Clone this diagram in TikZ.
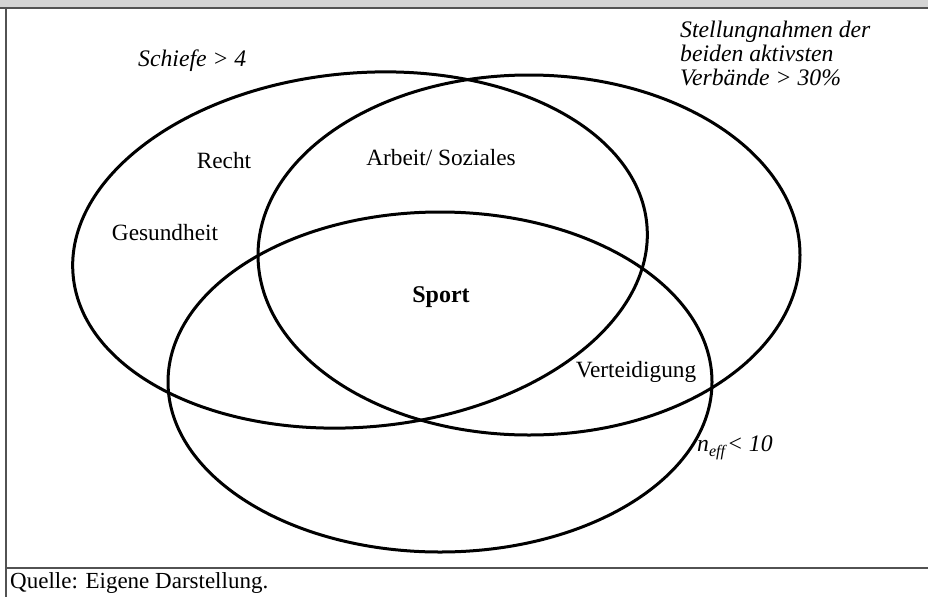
\documentclass[tikz,border=0pt]{standalone}
\usepackage{fontspec}
\setmainfont{Liberation Serif}[ItalicFont={Liberation Serif Italic},BoldFont={Liberation Serif Bold}]
\begin{document}
\begin{tikzpicture}[x=1pt,y=-1pt,
  venn/.style={draw=black,line width=3pt},
  lbl/.style={inner sep=0pt,font=\fontsize{23.3}{28}\selectfont},
  ilbl/.style={inner sep=0pt,font=\fontsize{23.7}{25.5}\selectfont\itshape},
  frameline/.style={draw=black!68,line width=2pt}]
\useasboundingbox (0,0) rectangle (928,597);
\fill[white] (0,0) rectangle (928,597);
% top grey band and frame
\fill[black!17] (0,0) rectangle (928,7);
\draw[frameline] (0,7.5) -- (928,7.5);
\draw[frameline] (5.5,7.5) -- (5.5,597);
\draw[frameline] (5.5,568) -- (928,568);
% ellipses
\draw[venn,rotate around={5:(360,250)}] (360,250) ellipse [x radius=288, y radius=177];
\draw[venn] (529,255) ellipse [x radius=271, y radius=180];
\draw[venn] (440,382) ellipse [x radius=272, y radius=170];
% labels
\node[ilbl,anchor=west] (schiefe) at (138,61) {Schiefe > 4};
\node[ilbl,anchor=base west] (stell1) at (680,37) {Stellungnahmen der};
\node[ilbl,anchor=base west] (stell2) at (680,61) {beiden aktivsten};
\node[ilbl,anchor=base west] (stell3) at (680,85) {Verbände > 30\%};
\node[lbl] (recht) at (224,161) {Recht};
\node[lbl] (gesund) at (165,233) {Gesundheit};
\node[lbl] (arbeit) at (441,158) {Arbeit/ Soziales};
\node[lbl,font=\fontsize{24}{30}\selectfont\bfseries] (sport) at (441,297) {Sport};
\node[lbl] (vert) at (636,372) {Verteidigung};
\node[ilbl,anchor=west] (neff) at (697,448) {n\raisebox{-5pt}{\fontsize{16}{16}\selectfont eff}\kern2pt< 10};
\node[inner sep=0pt,anchor=west,font=\fontsize{23}{28}\selectfont] (quelle) at (10,583) {Quelle: Eigene Darstellung.};
\end{tikzpicture}
\end{document}
